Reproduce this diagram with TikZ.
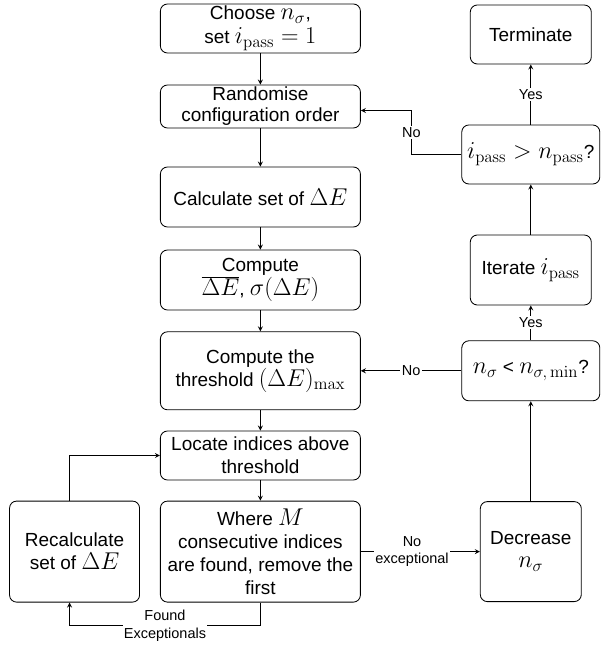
\documentclass[tikz,border=0pt]{standalone}
\usepackage[no-math]{fontspec}
\setmainfont{Liberation Sans}
\DeclareMathSizes{13.5}{16.8}{11.8}{8.4}
\usetikzlibrary{arrows,shapes,positioning}

\begin{document}
\begin{tikzpicture}
        [state/.style={rounded corners=5pt, rectangle, draw, inner sep=1pt, align=center, font=\fontsize{13.5}{16.4}\selectfont},
        lbl/.style={fill=white, inner sep=1pt, align=center, font=\fontsize{10.3}{12.6}\selectfont},
        every path/.style={->, >=stealth, semithick}]
        \useasboundingbox (0,0) rectangle (15,-16.175);
        % left column
        \node[state, minimum width=5cm, minimum height=1.225cm, font=\fontsize{13.5}{17.2}\selectfont] (choose) at (6.51,-0.7125) {Choose $n_\sigma$,\\ set $i_\mathrm{pass}=1$};
        \node[state, minimum width=5cm, minimum height=1.075cm, font=\fontsize{13.5}{15}\selectfont] (random) at (6.51,-2.6625) {Randomise\\ configuration order};
        \node[state, minimum width=5cm, minimum height=1.5cm] (calc) at (6.51,-4.925) {Calculate set of $\Delta E$};
        \node[state, minimum width=5cm, minimum height=1.5cm] (stats) at (6.51,-7.0) {Compute\\ $\overline{\Delta E}$, $\sigma(\Delta E)$};
        \node[state, minimum width=5cm, minimum height=1.95cm] (thresh) at (6.51,-9.27) {Compute the\\ threshold $(\Delta E)_\mathrm{max}$};
        \node[state, minimum width=5cm, minimum height=1.225cm] (locate) at (6.51,-11.3875) {Locate indices above\\ threshold};
        \node[state, minimum width=5cm, minimum height=2.525cm] (where) at (6.51,-13.79) {Where $M$\\ consecutive indices\\ are found, remove the\\ first};
        \node[state, minimum width=3.25cm, minimum height=2.525cm, left=0.5cm of where] (recalc) {Recalculate\\ set of $\Delta E$};
        % right column
        \node[state, minimum width=2.525cm, minimum height=2.5cm] (decr) at (13.27,-13.79) {Decrease\\ $n_\sigma$};
        \node[state, minimum width=3.45cm, minimum height=1.5cm] (nmin) at (13.27,-9.27) {$n_\sigma$ < $n_{\sigma,\,\mathrm{min}}$?};
        \node[state, minimum width=3.025cm, minimum height=1.75cm] (iter) at (13.27,-6.75) {Iterate $i_\mathrm{pass}$};
        \node[state, minimum width=3.45cm, minimum height=1.475cm] (npass) at (13.27,-3.8625) {$i_\mathrm{pass} > n_\mathrm{pass}$?};
        \node[state, minimum width=3.025cm, minimum height=1.475cm] (term) at (13.27,-0.8625) {Terminate};
        \draw (choose) -- (random);
        \draw (random) -- (calc);
        \draw (calc) -- (stats);
        \draw (stats) -- (thresh);
        \draw (thresh) -- (locate);
        \draw (locate) -- (where);
        \draw ([xshift=-0.125cm]recalc.north) |- (locate.west);
        \draw (where.south) -- ++(0,-0.575) -| node[pos=0.25, lbl] {Found\\ Exceptionals} ([xshift=-0.125cm]recalc.south);
        \draw (where) -- node[pos=0.43, lbl] {No\\ exceptional} (decr);
        \draw (decr) -- (nmin);
        \draw (nmin) -- node[lbl] {No} (thresh);
        \draw (nmin) -- node[lbl] {Yes} (iter);
        \draw (iter) -- (npass);
        \draw (npass) -- node[lbl] {Yes} (term);
        \draw (npass.west) -- ++(-1.25,0) |- node[pos=0.25, lbl] {No} ([yshift=-0.1cm]random.east);
    \end{tikzpicture}
\end{document}
